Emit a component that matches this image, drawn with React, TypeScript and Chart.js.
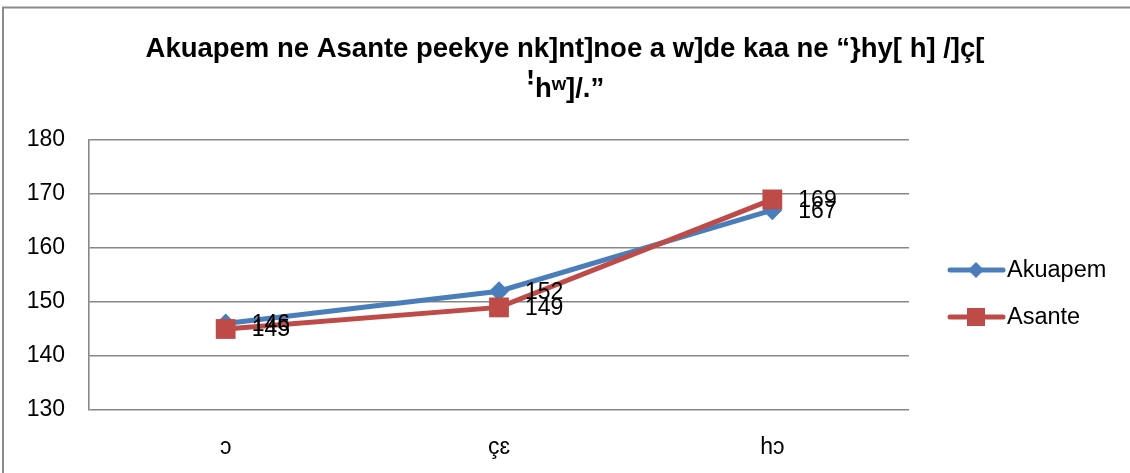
import React, { useEffect, useRef } from "react";
import { Chart, registerables } from "chart.js";

Chart.register(...registerables);

const titleLines = ["Akuapem ne Asante peekye nk]nt]noe a w]de kaa ne “}hy[ h] /]ç[", "ꜝhʷ]/.”"];
const categories = ["ɔ", "çɛ", "hɔ"];
const akuapemValues = [146, 152, 167];
const asanteValues = [145, 149, 169];
const yTicks = { min: 130, max: 180, step: 10 };
const seriesNames = ["Akuapem", "Asante"];
const seriesColors = ["#4A7EBB", "#BE4B48"];

const FONT = "'Liberation Sans', Arial, sans-serif";

const framePlugin = {
  id: "frame",
  beforeDraw(chart: any) {
    const ctx = chart.ctx;
    ctx.save();
    ctx.strokeStyle = "#8a8a8a";
    ctx.lineWidth = 2;
    ctx.beginPath();
    ctx.moveTo(3, chart.height);
    ctx.lineTo(3, 7.5);
    ctx.lineTo(chart.width, 7.5);
    ctx.stroke();
    ctx.restore();
  },
};

const titlePlugin = {
  id: "customTitle",
  afterDraw(chart: any) {
    const ctx = chart.ctx;
    ctx.save();
    ctx.fillStyle = "#000";
    ctx.font = `bold 27.5px ${FONT}`;
    ctx.textAlign = "center";
    ctx.textBaseline = "alphabetic";
    ctx.fillText(titleLines[0], 565, 57);
    ctx.fillText(titleLines[1], 565, 97);
    ctx.restore();
  },
};

const dataLabelPlugin = {
  id: "dataLabels",
  afterDatasetsDraw(chart: any) {
    const ctx = chart.ctx;
    ctx.save();
    ctx.fillStyle = "#000";
    ctx.font = `23px ${FONT}`;
    ctx.textAlign = "left";
    ctx.textBaseline = "middle";
    chart.data.datasets.forEach((ds: any, i: number) => {
      const meta = chart.getDatasetMeta(i);
      meta.data.forEach((pt: any, j: number) => {
        ctx.fillText(String(ds.data[j]), pt.x + 26, pt.y + 1);
      });
    });
    ctx.restore();
  },
};

const legendPlugin = {
  id: "customLegend",
  afterDraw(chart: any) {
    const ctx = chart.ctx;
    const rows = [270, 317];
    ctx.save();
    chart.data.datasets.forEach((ds: any, i: number) => {
      const y = rows[i];
      ctx.strokeStyle = ds.borderColor;
      ctx.lineWidth = 5;
      ctx.lineCap = "round";
      ctx.beginPath();
      ctx.moveTo(950, y);
      ctx.lineTo(1003, y);
      ctx.stroke();
      ctx.fillStyle = ds.backgroundColor;
      if (i === 0) {
        ctx.beginPath();
        ctx.moveTo(976 - 8, y);
        ctx.lineTo(976, y - 8);
        ctx.lineTo(976 + 8, y);
        ctx.lineTo(976, y + 8);
        ctx.closePath();
        ctx.fill();
      } else {
        ctx.fillRect(976 - 9, y - 9, 18, 18);
      }
      ctx.fillStyle = "#000";
      ctx.font = `23.5px ${FONT}`;
      ctx.textAlign = "left";
      ctx.textBaseline = "middle";
      ctx.fillText(seriesNames[i], 1007, y + 1);
    });
    ctx.restore();
  },
};

export default function App() {
  const ref = useRef<HTMLCanvasElement>(null);
  useEffect(() => {
    if (!ref.current) return;
    const chart = new Chart(ref.current, {
      type: "line",
      data: {
        labels: categories,
        datasets: [
          {
            label: seriesNames[0],
            data: akuapemValues,
            borderColor: seriesColors[0],
            backgroundColor: seriesColors[0],
            borderWidth: 5,
            pointStyle: "rectRot",
            pointRadius: 10,
            pointBorderWidth: 0,
            order: 1,
          },
          {
            label: seriesNames[1],
            data: asanteValues,
            borderColor: seriesColors[1],
            backgroundColor: seriesColors[1],
            borderWidth: 5,
            pointStyle: "rect",
            pointRadius: 14,
            pointBorderWidth: 0,
            order: 0,
          },
        ],
      },
      options: {
        responsive: false,
        animation: false,
        layout: { padding: { left: 0, top: 140, right: 221, bottom: 0 } },
        plugins: { legend: { display: false }, title: { display: false }, tooltip: { enabled: false } },
        scales: {
          x: {
            offset: true,
            grid: { display: false, drawTicks: false },
            border: { display: false },
            ticks: { color: "#000", font: { family: FONT, size: 23 }, padding: 24 },
            afterFit(scale: any) {
              scale.height = 63;
            },
          },
          y: {
            min: yTicks.min,
            max: yTicks.max,
            grid: { color: "#878787", lineWidth: 1.6, drawTicks: false },
            border: { display: true, color: "#878787", width: 1.6 },
            ticks: { stepSize: yTicks.step, color: "#000", font: { family: FONT, size: 23 }, padding: 24 },
            afterFit(scale: any) {
              scale.width = 89;
            },
          },
        },
      },
      plugins: [framePlugin, titlePlugin, dataLabelPlugin, legendPlugin],
    });
    return () => chart.destroy();
  }, []);
  return (
    <div style={{ position: "absolute", left: 0, top: 0, width: 1130, height: 473, background: "#fff" }}>
      <canvas ref={ref} width={1130} height={473} />
    </div>
  );
}
